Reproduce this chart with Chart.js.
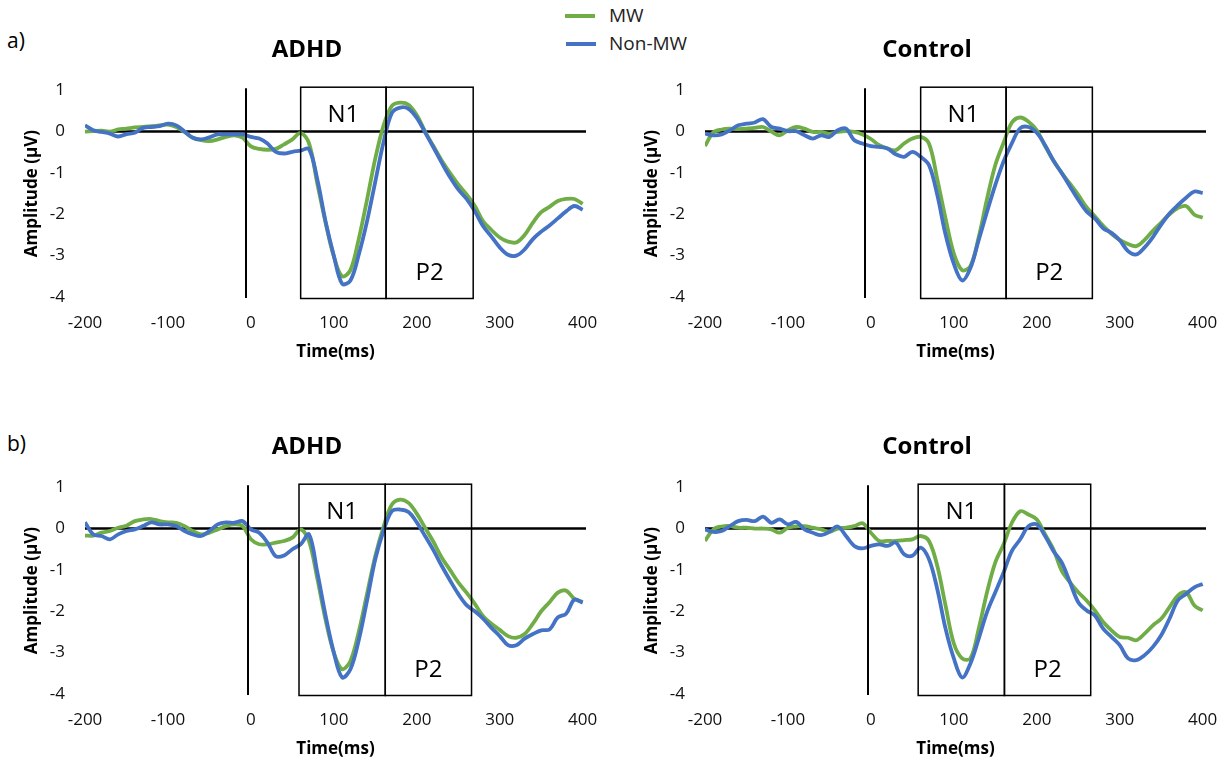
<!DOCTYPE html>
<html><head><meta charset="utf-8">
<script src="https://cdn.jsdelivr.net/npm/chart.js@4.4.1/dist/chart.umd.min.js"></script>
<style>
html,body{margin:0;padding:0;background:#fff;width:1228px;height:764px;overflow:hidden;font-family:"Open Sans",sans-serif;}
canvas{position:absolute;}
.txt{position:absolute;color:#000;white-space:nowrap;font-family:"Open Sans",sans-serif;}
.ttl{font-weight:bold;font-size:24px;line-height:24px;text-align:center;width:614px;}
.lg{position:absolute;height:4px;width:30px;}
</style></head><body>
<script>
// ---- data ----
const timeMs = [-200,-190,-180,-170,-160,-150,-140,-130,-120,-110,-100,-90,-80,-70,-60,-50,-40,-30,-20,-10,
  0,10,20,30,40,50,60,70,80,90,100,110,120,130,140,150,160,170,180,190,200,210,220,230,240,250,260,270,280,290,
  300,310,320,330,340,350,360,370,380,390,400];
const seriesNames = ['MW','Non-MW'];
const panelTitles = ['ADHD','Control','ADHD','Control'];
const rowLabels = ['a)','b)'];
const windowNames = ['N1','P2'];
const xTickValues = [-200,-100,0,100,200,300,400];
const yTickValues = [1,0,-1,-2,-3,-4];

const adhdA_MW = [0.0,0.01,0.02,0.0,0.05,0.07,0.10,0.11,0.13,0.15,0.17,0.11,-0.01,-0.15,-0.21,-0.23,-0.19,-0.13,-0.09,-0.15,
  -0.36,-0.42,-0.44,-0.42,-0.31,-0.19,-0.03,-0.28,-1.25,-2.2,-3.02,-3.5,-3.35,-2.6,-1.65,-0.65,0.15,0.62,0.7,0.65,
  0.4,0.0,-0.35,-0.7,-1.0,-1.28,-1.52,-1.8,-2.17,-2.38,-2.56,-2.66,-2.68,-2.5,-2.2,-1.95,-1.82,-1.68,-1.63,-1.63,-1.75];
const adhdA_NonMW = [0.15,0.03,-0.01,-0.05,-0.12,-0.06,-0.03,0.09,0.11,0.13,0.19,0.15,0.0,-0.15,-0.19,-0.14,-0.07,-0.07,-0.07,-0.07,
  -0.13,-0.17,-0.29,-0.49,-0.53,-0.49,-0.46,-0.42,-1.15,-2.17,-3.0,-3.68,-3.6,-2.98,-2.17,-1.21,-0.25,0.45,0.58,0.55,
  0.33,-0.02,-0.38,-0.75,-1.1,-1.4,-1.63,-1.93,-2.29,-2.54,-2.8,-2.98,-3.0,-2.85,-2.6,-2.42,-2.27,-2.1,-1.93,-1.8,-1.89];
const controlA_MW = [-0.35,-0.02,0.05,0.07,0.06,0.07,0.09,0.11,0.0,-0.09,0.03,0.11,0.07,-0.01,-0.01,-0.05,-0.01,0.01,-0.01,-0.07,
  -0.18,-0.33,-0.41,-0.45,-0.29,-0.17,-0.13,-0.29,-1.15,-2.1,-2.95,-3.35,-3.25,-2.55,-1.63,-0.81,-0.27,0.22,0.34,0.24,
  0.03,-0.35,-0.7,-1.0,-1.26,-1.53,-1.83,-2.05,-2.28,-2.47,-2.62,-2.72,-2.77,-2.62,-2.4,-2.2,-2.0,-1.85,-1.8,-2.01,-2.08];
const controlA_NonMW = [-0.05,-0.09,-0.07,0.03,0.15,0.19,0.22,0.3,0.11,0.07,0.01,0.01,-0.09,-0.17,-0.09,-0.13,0.03,0.07,-0.21,-0.29,
  -0.35,-0.37,-0.41,-0.55,-0.61,-0.49,-0.61,-0.81,-1.53,-2.49,-3.2,-3.6,-3.3,-2.62,-1.94,-1.29,-0.72,-0.28,0.08,0.11,
  -0.03,-0.33,-0.7,-1.0,-1.33,-1.65,-1.93,-2.1,-2.34,-2.45,-2.63,-2.89,-2.97,-2.8,-2.55,-2.25,-1.98,-1.78,-1.6,-1.45,-1.49];
const adhdB_MW = [-0.17,-0.17,-0.1,-0.06,0.02,0.07,0.18,0.22,0.23,0.18,0.15,0.14,0.06,-0.06,-0.14,-0.1,-0.02,0.06,0.1,0.06,
  -0.26,-0.38,-0.38,-0.34,-0.3,-0.22,-0.02,-0.3,-1.2,-2.2,-3.0,-3.4,-3.2,-2.5,-1.58,-0.66,0.05,0.58,0.7,0.62,
  0.36,0.02,-0.32,-0.7,-1.0,-1.3,-1.55,-1.82,-2.12,-2.3,-2.45,-2.6,-2.64,-2.55,-2.3,-2.0,-1.78,-1.55,-1.5,-1.7,-1.78];
const adhdB_NonMW = [0.15,-0.14,-0.18,-0.26,-0.14,-0.06,-0.02,0.06,0.15,0.1,0.1,0.06,-0.06,-0.14,-0.18,-0.06,0.1,0.15,0.14,0.18,
  -0.02,-0.1,-0.34,-0.67,-0.65,-0.5,-0.38,-0.14,-1.05,-2.1,-3.0,-3.6,-3.4,-2.7,-1.74,-0.74,-0.05,0.42,0.46,0.4,
  0.15,-0.18,-0.52,-0.9,-1.25,-1.58,-1.85,-2.0,-2.18,-2.4,-2.6,-2.82,-2.82,-2.66,-2.55,-2.46,-2.44,-2.15,-2.06,-1.72,-1.79];
const controlB_MW = [-0.3,-0.02,0.05,0.06,0.02,0.02,0.0,0.0,-0.02,-0.1,0.02,0.05,0.06,0.02,-0.02,-0.08,0.0,0.02,0.06,0.13,
  -0.1,-0.3,-0.3,-0.3,-0.28,-0.26,-0.18,-0.3,-0.9,-1.86,-2.78,-3.14,-3.14,-2.42,-1.54,-0.82,-0.38,0.14,0.42,0.34,
  0.22,-0.14,-0.5,-1.02,-1.3,-1.54,-1.74,-1.98,-2.26,-2.46,-2.62,-2.64,-2.7,-2.54,-2.34,-2.18,-1.9,-1.62,-1.54,-1.86,-1.98];
const controlB_NonMW = [-0.02,-0.08,-0.06,0.06,0.18,0.21,0.18,0.29,0.14,0.22,0.1,0.16,-0.02,-0.1,-0.16,-0.08,0.05,-0.18,-0.42,-0.48,
  -0.42,-0.38,-0.42,-0.34,-0.62,-0.66,-0.46,-0.74,-1.46,-2.42,-3.14,-3.6,-3.26,-2.66,-2.02,-1.54,-1.06,-0.54,-0.26,0.06,
  0.1,-0.18,-0.54,-0.82,-1.3,-1.78,-1.98,-2.1,-2.42,-2.62,-2.82,-3.14,-3.18,-3.06,-2.86,-2.58,-2.18,-1.74,-1.58,-1.42,-1.34];

// stimulus-onset marker and component windows (ms), per panel
const stimMarkerMs = [-6,-7,-3,-4];
const n1WindowMs = [[60,163],[60,163],[58,162],[57,161]];
const p2WindowMs = [[163,268],[163,267],[162,266],[161,265]];

// ---- styling / layout ----
const colors = ['#70AD47','#4472C4'];
const FONT = '"Open Sans", sans-serif';
const panels = [
  {left:0,   top:60,  mw:adhdA_MW,    non:adhdA_NonMW},
  {left:620, top:60,  mw:controlA_MW, non:controlA_NonMW},
  {left:0,   top:457, mw:adhdB_MW,    non:adhdB_NonMW},
  {left:620, top:457, mw:controlB_MW, non:controlB_NonMW}
];

function addText(txt, cls, css){
  const d = document.createElement('div');
  d.className = 'txt ' + (cls||'');
  d.textContent = txt;
  Object.assign(d.style, css);
  document.body.appendChild(d);
}

// legend
[0,1].forEach(i=>{
  const l = document.createElement('div');
  l.className = 'lg';
  Object.assign(l.style,{left:(565+i)+'px', top:(14+i*28)+'px', background:colors[i]});
  document.body.appendChild(l);
  addText(seriesNames[i], '', {left:'609px', top:(3+i*28)+'px', fontSize:'19px', lineHeight:'24px', color:'#222'});
});
// row labels
addText(rowLabels[0], '', {left:'7px', top:'30px', fontSize:'21px', lineHeight:'21px'});
addText(rowLabels[1], '', {left:'7px', top:'433px', fontSize:'21px', lineHeight:'21px'});

function markPlugin(idx){
  return {
    id:'erpMarks'+idx,
    beforeDatasetsDraw(chart){
      const {ctx, chartArea:a, scales:{y}} = chart;
      const y0 = y.getPixelForValue(0);
      ctx.save(); ctx.strokeStyle='#000'; ctx.lineWidth=2.5;
      ctx.beginPath(); ctx.moveTo(a.left, y0); ctx.lineTo(a.right, y0); ctx.stroke();
      ctx.restore();
    },
    afterDatasetsDraw(chart){
      const {ctx, scales:{x,y}} = chart;
      const yt = y.getPixelForValue(yTickValues[0]);
      const yb = y.getPixelForValue(yTickValues[yTickValues.length-1]);
      ctx.save();
      ctx.strokeStyle='#000';
      ctx.lineWidth=2;
      const xs = Math.round(x.getPixelForValue(stimMarkerMs[idx]));
      ctx.beginPath(); ctx.moveTo(xs, yt-2); ctx.lineTo(xs, yb+1); ctx.stroke();
      ctx.lineWidth=1.5;
      const wins = [n1WindowMs[idx], p2WindowMs[idx]];
      ctx.fillStyle='#000';
      ctx.font = '24px ' + FONT;
      ctx.textAlign='center'; ctx.textBaseline='middle';
      wins.forEach((w,k)=>{
        const x1 = x.getPixelForValue(w[0]), x2 = x.getPixelForValue(w[1]);
        ctx.strokeRect(x1, yt-3, x2-x1, (yb+1.5)-(yt-3));
        const ty = k===0 ? yt+25 : yb-24;
        ctx.fillText(windowNames[k], (x1+x2)/2, ty);
      });
      ctx.restore();
    }
  };
}

panels.forEach((p,idx)=>{
  const cv = document.createElement('canvas');
  cv.width = 614; cv.height = 305;
  cv.style.left = p.left+'px'; cv.style.top = p.top+'px';
  document.body.appendChild(cv);
  addText(panelTitles[idx], 'ttl', {left:p.left+'px', top:(p.top-24)+'px'});

  const mk = (arr)=>timeMs.map((t,i)=>({x:t, y:arr[i]}));
  new Chart(cv, {
    type:'line',
    data:{datasets:[
      {label:seriesNames[0], data:mk(p.mw), borderColor:colors[0], borderWidth:3.8, pointRadius:0, tension:0.35, fill:false, order:1},
      {label:seriesNames[1], data:mk(p.non), borderColor:colors[1], borderWidth:3.8, pointRadius:0, tension:0.35, fill:false, order:0}
    ]},
    options:{
      responsive:false, animation:false, devicePixelRatio:1,
      layout:{padding:{left:0, right:28, top:28, bottom:0}},
      plugins:{legend:{display:false}, tooltip:{enabled:false}, title:{display:false}},
      scales:{
        x:{type:'linear', min:-200, max:404,
           border:{display:false}, grid:{display:false, drawTicks:false},
           afterBuildTicks:s=>{ s.ticks = xTickValues.map(v=>({value:v})); },
           ticks:{padding:16, font:{family:FONT, size:17}, color:'#111', callback:v=>String(v), maxRotation:0, autoSkip:false},
           title:{display:true, text:'Time(ms)', font:{family:FONT, size:17, weight:'bold'}, color:'#000', padding:{top:0,bottom:3}},
           afterFit:s=>{ s.height = 68; }},
        y:{type:'linear', min:-4, max:1,
           border:{display:false}, grid:{display:false, drawTicks:false},
           afterBuildTicks:s=>{ s.ticks = yTickValues.map(v=>({value:v})); },
           ticks:{padding:20, font:{family:FONT, size:17}, color:'#111', callback:v=>String(v)},
           title:{display:true, text:'Amplitude (µV)', font:{family:FONT, size:17, weight:'bold'}, color:'#000', padding:{top:22,bottom:0}},
           afterFit:s=>{ s.width = 85; }}
      }
    },
    plugins:[markPlugin(idx)]
  });
});
</script>
</body></html>
